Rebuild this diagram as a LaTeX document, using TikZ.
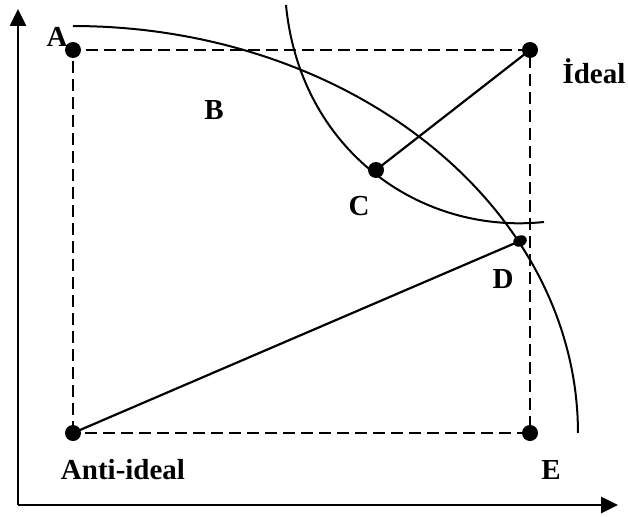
\documentclass[tikz,border=0pt]{standalone}
\usepackage{fontspec}
\setmainfont{Liberation Serif}
\usetikzlibrary{arrows.meta,shapes.geometric}
\begin{document}
\begin{tikzpicture}[x=1pt,y=-1pt,
  dot/.style={circle,fill=black,inner sep=0pt,minimum size=16pt},
  lbl/.style={anchor=base,font=\fontsize{29}{29}\selectfont\bfseries,inner sep=0pt},
  dashbox/.style={line width=2.5pt,dash pattern=on 12pt off 6pt},
  seg/.style={line width=2.2pt},
  curve/.style={line width=2pt},
  axis/.style={line width=2.6pt,-{Triangle[width=16pt,length=17pt]}}]
\useasboundingbox (0,0) rectangle (628,516);
% axes
\coordinate (O) at (18,505);
\coordinate (Ytop) at (18,9);
\coordinate (Xend) at (618,505);
\draw[axis] (O) -- (Ytop);
\draw[axis] (O) -- (Xend);
% corners
\coordinate (cA) at (73,50);
\coordinate (cI) at (530,50);
\coordinate (cN) at (73,433);
\coordinate (cE) at (530,433);
\draw[dashbox] (cN) -- (cA) -- (cI) -- (cE) -- cycle;
% arcs
\draw[curve] plot[domain=90:0,samples=80] ({73+505*cos(\x)},{433-407*sin(\x)});
\coordinate (s2) at (286,5);
\coordinate (e2) at (544,222);
\draw[curve] (s2) .. controls (300,150) and (420,235) .. (e2);
% dots
\node[dot] (A) at (cA) {};
\node[dot] (I) at (cI) {};
\node[dot] (N) at (cN) {};
\node[dot] (E) at (cE) {};
\node[dot] (C) at (376,170) {};
\node[ellipse,fill=black,inner sep=0pt,minimum width=14pt,minimum height=11pt,rotate=23] (D) at (520,241) {};
% connectors
\draw[seg] (I.center) -- (C.center);
\draw[seg] (N.center) -- (D.center);
% labels
\node[lbl] (lA) at (57,47) {A};
\node[lbl] (lI) at (594,84) {İdeal};
\node[lbl] (lB) at (214,119) {B};
\node[lbl] (lC) at (359,215) {C};
\node[lbl] (lD) at (503,288) {D};
\node[lbl] (lE) at (551,479) {E};
\node[lbl] (lN) at (123,479) {Anti-ideal};
\end{tikzpicture}
\end{document}
